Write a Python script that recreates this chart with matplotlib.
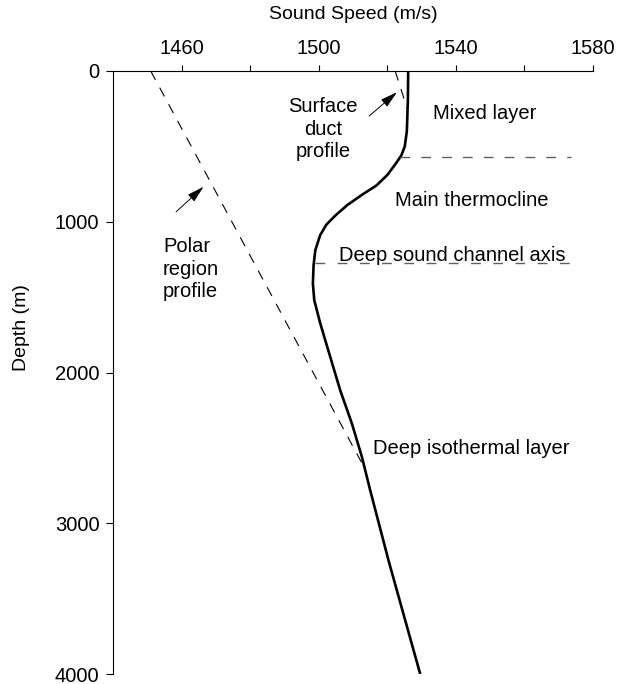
#!/usr/bin/env python
# Sound speed profile in the deep ocean
import matplotlib
matplotlib.use('Agg')
from matplotlib import pyplot as plt

plt.rcParams['font.family'] = ['Liberation Sans', 'DejaVu Sans']

# main (mid-latitude) profile
depth_main = [0, 200, 400, 500, 560, 620, 690, 760, 820, 890, 960, 1020, 1090,
              1190, 1290, 1410, 1520, 1670, 1900, 2120, 2340, 2560, 2780, 3250, 4000]
speed_main = [1526.1, 1526.0, 1525.7, 1525.1, 1524.1, 1522.3, 1520.0, 1516.8,
              1512.7, 1508.3, 1504.8, 1502.2, 1500.4, 1499.0, 1498.5, 1498.3,
              1498.7, 1500.4, 1503.4, 1506.3, 1509.7, 1512.6, 1515.0, 1520.4, 1529.6]

# polar region profile and surface duct profile (dashed)
depth_polar = [0, 2610]
speed_polar = [1451.0, 1512.8]
depth_duct = [0, 250]
speed_duct = [1522.3, 1525.8]

# layer boundaries
mixed_depth = 568
mixed_speed = [1523.8, 1573.5]
axis_depth = 1275
axis_speed = [1498.9, 1575.5]

xticks = [1460, 1480, 1500, 1520, 1540, 1560, 1580]
xticklabels = ['1460', '', '1500', '', '1540', '', '1580']
yticks = [0, 1000, 2000, 3000, 4000]

fig = plt.figure(figsize=(6.33, 6.84), dpi=100)
ax = fig.add_axes([113/633, 1 - 674/684, 480/633, 603/684])

ax.plot(speed_main, depth_main, color='black', lw=1.9, solid_capstyle='butt')
ax.plot(speed_polar, depth_polar, color='black', lw=0.8, linestyle=(0, (9, 8)))
ax.plot(speed_duct, depth_duct, color='black', lw=0.8, linestyle=(0, (9, 8)))
ax.plot(mixed_speed, [mixed_depth] * 2, color='#606060', lw=1.0, linestyle=(0, (7, 8)))
ax.plot(axis_speed, [axis_depth] * 2, color='#606060', lw=1.0, linestyle=(0, (7, 9)))

# arrows
arrow = dict(arrowstyle='-|>,head_length=0.8,head_width=0.22', lw=0.7,
             color='black', mutation_scale=13, shrinkA=0, shrinkB=0)
ax.annotate('', xy=(1522.8, 141), xytext=(1514.7, 299), arrowprops=arrow)
ax.annotate('', xy=(1466.4, 768), xytext=(1458.4, 934), arrowprops=arrow)

fs = 14.5
ax.text(1501.3, 385, 'Surface\nduct\nprofile', ha='center', va='center',
        fontsize=fs, linespacing=1.22, multialignment='center')
ax.text(1454.6, 1314, 'Polar\nregion\nprofile', ha='left', va='center',
        fontsize=fs, linespacing=1.22)
ax.text(1533.2, 285, 'Mixed layer', ha='left', va='center', fontsize=fs)
ax.text(1522.3, 856, 'Main thermocline', ha='left', va='center', fontsize=fs)
ax.text(1505.8, 1259, 'Deep sound channel axis', ha='left', va='baseline', fontsize=fs)
ax.text(1515.9, 2502, 'Deep isothermal layer', ha='left', va='center', fontsize=fs)

ax.set_xlim(1440, 1580)
ax.set_ylim(4000, 0)
ax.xaxis.set_ticks_position('top')
ax.xaxis.set_label_position('top')
ax.set_xticks(xticks)
ax.set_xticklabels(xticklabels)
ax.set_yticks(yticks)
ax.tick_params(axis='x', direction='out', length=4.5, width=0.8,
               pad=4.5, labelsize=14.5)
ax.tick_params(axis='y', direction='out', length=5, width=0.8,
               pad=4.8, labelsize=14.5)
for side in ['right', 'bottom']:
    ax.spines[side].set_visible(False)
for side in ['left', 'top']:
    ax.spines[side].set_linewidth(0.8)

ax.set_xlabel('Sound Speed (m/s)', fontsize=14, labelpad=15)
fig.text(21.7/633, 1 - 328/684, 'Depth (m)', rotation=90, ha='center',
         va='center', fontsize=14)

fig.savefig('out.png', dpi=100)
